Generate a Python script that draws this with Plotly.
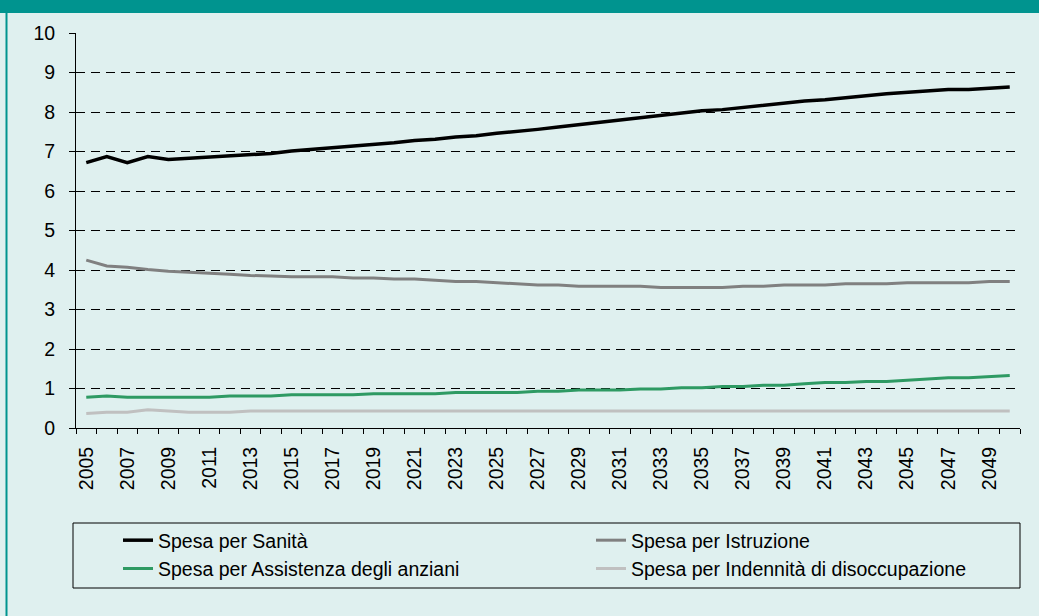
import plotly.graph_objects as go

years = list(range(2005, 2051))

sanita = [6.72, 6.87, 6.72, 6.87, 6.80, 6.83, 6.86, 6.89, 6.92, 6.95,
          7.01, 7.05, 7.09, 7.15, 7.18, 7.22, 7.28, 7.31, 7.37, 7.40,
          7.46, 7.50, 7.56, 7.62, 7.68, 7.72, 7.78, 7.85, 7.91, 7.97,
          8.03, 8.06, 8.12, 8.18, 8.22, 8.28, 8.31, 8.37, 8.41, 8.46,
          8.50, 8.53, 8.57, 8.57, 8.60, 8.63]

istruzione = [4.25, 4.10, 4.07, 4.01, 3.97, 3.95, 3.92, 3.89, 3.86, 3.85,
              3.83, 3.83, 3.83, 3.80, 3.80, 3.77, 3.77, 3.74, 3.71, 3.71,
              3.68, 3.65, 3.62, 3.62, 3.59, 3.59, 3.59, 3.59, 3.56, 3.56,
              3.56, 3.56, 3.59, 3.59, 3.62, 3.62, 3.62, 3.65, 3.65, 3.65,
              3.68, 3.68, 3.68, 3.68, 3.71, 3.71]

assistenza = [0.78, 0.81, 0.78, 0.78, 0.78, 0.78, 0.78, 0.81, 0.81, 0.81,
              0.84, 0.84, 0.84, 0.84, 0.87, 0.87, 0.87, 0.87, 0.90, 0.90,
              0.90, 0.90, 0.93, 0.93, 0.96, 0.96, 0.96, 0.99, 0.99, 1.02,
              1.02, 1.05, 1.05, 1.08, 1.08, 1.12, 1.15, 1.15, 1.18, 1.18,
              1.21, 1.24, 1.27, 1.27, 1.30, 1.33]

indennita = [0.37, 0.40, 0.40, 0.46, 0.43, 0.40, 0.40, 0.40, 0.43, 0.43,
             0.43, 0.43, 0.43, 0.43, 0.43, 0.43, 0.43, 0.43, 0.43, 0.43,
             0.43, 0.43, 0.43, 0.43, 0.43, 0.43, 0.43, 0.43, 0.43, 0.43,
             0.43, 0.43, 0.43, 0.43, 0.43, 0.43, 0.43, 0.43, 0.43, 0.43,
             0.43, 0.43, 0.43, 0.43, 0.43, 0.43]

series_names = ["Spesa per Sanità", "Spesa per Istruzione",
                "Spesa per Assistenza degli anziani",
                "Spesa per Indennità di disoccupazione"]

x_labels = [str(y) for y in range(2005, 2050, 2)]

FONT = "Arial, Liberation Sans, sans-serif"
BG = "#DFF0EF"
TEAL = "#00948F"

W, H = 1039, 616
L, R, T, B = 76, 1020, 33, 428
PW, PH = R - L, B - T


def px(xp):
    return (xp - L) / PW


def py(yp):
    return (B - yp) / PH


fig = go.Figure()
fig.add_trace(go.Scatter(x=years, y=sanita, name=series_names[0], mode="lines",
                         line=dict(color="#000000", width=3.5), legend="legend"))
fig.add_trace(go.Scatter(x=years, y=istruzione, name=series_names[1], mode="lines",
                         line=dict(color="#808080", width=3), legend="legend2"))
fig.add_trace(go.Scatter(x=years, y=assistenza, name=series_names[2], mode="lines",
                         line=dict(color="#2E9A63", width=3), legend="legend"))
fig.add_trace(go.Scatter(x=years, y=indennita, name=series_names[3], mode="lines",
                         line=dict(color="#C0C0C0", width=3), legend="legend2"))

shapes = [
    # top teal band
    dict(type="rect", xref="paper", yref="paper", x0=px(0), x1=px(W), y0=py(13), y1=py(0),
         fillcolor=TEAL, line=dict(width=0), layer="below"),
    # left teal stripe
    dict(type="rect", xref="paper", yref="paper", x0=px(5.5), x1=px(7.5), y0=py(H), y1=py(13),
         fillcolor=TEAL, line=dict(width=0), layer="below"),
    # legend box
    dict(type="rect", xref="paper", yref="paper", x0=px(73), x1=px(1020), y0=py(588), y1=py(523),
         fillcolor="rgba(0,0,0,0)", line=dict(color="#000000", width=1)),
]

legend_common = dict(orientation="v", xanchor="left", yanchor="top",
                     bgcolor="rgba(0,0,0,0)", borderwidth=0,
                     font=dict(family=FONT, size=19.5, color="#000000"),
                     tracegroupgap=0)

fig.update_layout(
    width=W, height=H,
    margin=dict(l=L, r=W - R, t=T, b=H - B, pad=0),
    paper_bgcolor=BG, plot_bgcolor=BG,
    font=dict(family=FONT, size=19.5, color="#000000"),
    showlegend=True,
    legend=dict(x=px(118), y=py(521), **legend_common),
    legend2=dict(x=px(591), y=py(521), **legend_common),
    shapes=shapes,
    xaxis=dict(
        range=[2004.5, 2050.5],
        tickvals=list(range(2005, 2050, 2)), ticktext=x_labels,
        tickangle=-90, ticks="", showgrid=False, zeroline=False,
        showline=True, linecolor="#000000", linewidth=1,
        tickfont=dict(family=FONT, size=19.5, color="#000000"),
        ticklabelstandoff=10,
        minor=dict(tickvals=[y + 0.5 for y in range(2004, 2051)], ticks="outside",
                   ticklen=5, tickcolor="#000000", tickwidth=1, showgrid=False),
    ),
    yaxis=dict(
        range=[0, 10], dtick=1, tick0=0,
        showgrid=True, gridcolor="#000000", gridwidth=1, griddash="9px,6px",
        zeroline=False, showline=True, linecolor="#000000", linewidth=1,
        ticks="outside", ticklen=6, tickcolor="#000000",
        tickfont=dict(family=FONT, size=19.5, color="#000000"),
        ticklabelstandoff=10,
    ),
)

fig.write_html("out.html", config={"displayModeBar": False},
               post_script="document.body.style.margin='0';document.body.style.padding='0';")
